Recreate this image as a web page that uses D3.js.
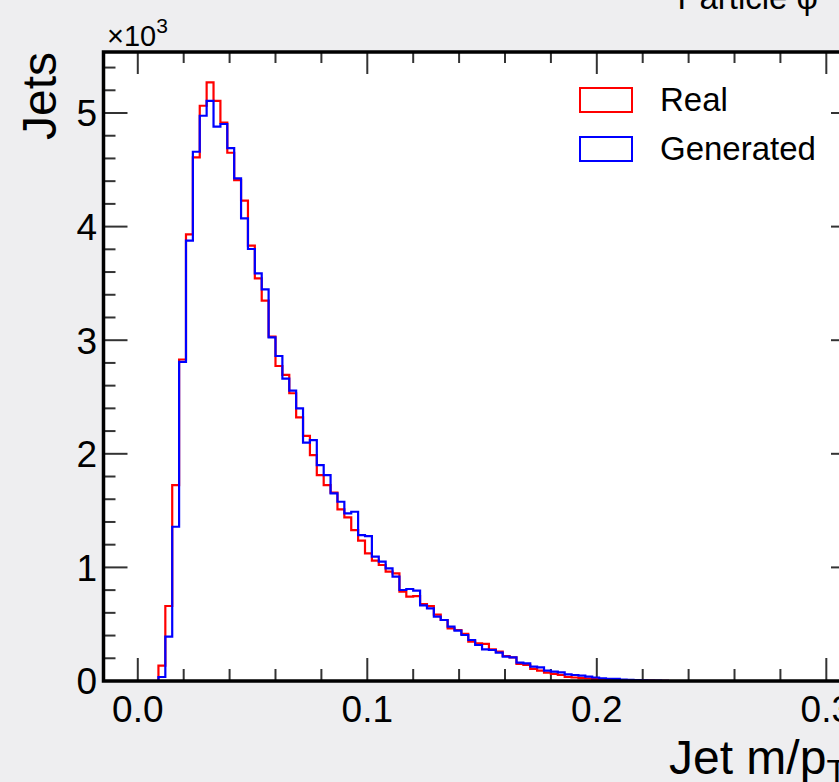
<!DOCTYPE html>
<html>
<head>
<meta charset="utf-8">
<script src="https://cdn.jsdelivr.net/npm/d3@7"></script>
<style>
  html, body { margin: 0; padding: 0; background: #eeeef0; }
  svg { display: block; }
  text { font-family: "Liberation Sans", Arial, Helvetica, sans-serif; fill: #000; }
</style>
</head>
<body>
<svg id="chart" width="839" height="782"></svg>
<script>
// histogram binning (bins of 0.003 starting at 0.006)
var binStart = 0.006, binWidth = 0.003;

// bin contents
var real = [0, 135, 660, 1725, 2830, 3932, 4610, 5064, 5270, 5106,
  4915, 4650, 4410, 4228, 3832, 3545, 3348, 3031, 2773, 2694,
  2533, 2321, 2157, 1989, 1813, 1725, 1658, 1511, 1441, 1329,
  1235, 1124, 1060, 1021, 962, 948, 786, 742, 748, 678,
  660, 584, 537, 464, 449, 414, 346, 332, 326, 279,
  258, 220, 208, 150, 141, 106, 91, 73, 62, 53,
  35, 31, 26, 22, 18, 15, 12, 9, 8, 6,
  5, 4, 3, 2, 1];
var generated = [0, 35, 390, 1358, 2810, 3876, 4659, 4976, 5106, 4880,
  4903, 4690, 4425, 4073, 3803, 3589, 3448, 3025, 2861, 2661,
  2556, 2400, 2098, 2121, 1901, 1813, 1652, 1578, 1476, 1490,
  1285, 1276, 1094, 1050, 992, 918, 801, 810, 795, 666,
  640, 566, 537, 478, 443, 405, 361, 317, 279, 273,
  249, 214, 208, 161, 155, 126, 120, 91, 82, 76,
  59, 53, 47, 38, 31, 24, 20, 18, 13, 10,
  8, 6, 4, 3, 2];

var seriesNames = ['Real', 'Generated'];
var seriesColors = ['#ff0000', '#0000ff'];
var xMajor = [0, 0.1, 0.2, 0.3];
var xMinor = [0.02, 0.04, 0.06, 0.08, 0.12, 0.14, 0.16, 0.18, 0.22, 0.24, 0.26, 0.28];
var yMajor = [0, 1000, 2000, 3000, 4000, 5000];

var svg = d3.select('#chart');

// frame (window.top is taken, so keep the edges in an object)
var frame = {left: 103.5, right: 855, top: 52, bottom: 681};
var x = d3.scaleLinear().domain([-0.01494, 0.3125]).range([frame.left, frame.right]);
var y = d3.scaleLinear().domain([0, 5537]).range([frame.bottom, frame.top]);

svg.append('rect').attr('x', frame.left).attr('y', frame.top)
  .attr('width', frame.right - frame.left).attr('height', frame.bottom - frame.top)
  .attr('fill', '#fff');

// minor y ticks every 200
var yMinor = d3.range(200, 5537, 200).filter(function(v){ return v % 1000 !== 0; });

var tickCol = '#333';
var g = svg.append('g');

function vtick(v, len, atTop){
  var yy = atTop ? frame.top : frame.bottom;
  g.append('line').attr('x1', x(v)).attr('x2', x(v))
    .attr('y1', yy).attr('y2', atTop ? yy + len : yy - len)
    .attr('stroke', tickCol).attr('stroke-width', 2);
}
function htick(v, len, atRight){
  var xx = atRight ? frame.right : frame.left;
  g.append('line').attr('y1', y(v)).attr('y2', y(v))
    .attr('x1', xx).attr('x2', atRight ? xx - len : xx + len)
    .attr('stroke', tickCol).attr('stroke-width', 2);
}
xMajor.forEach(function(v){ vtick(v, 23, false); vtick(v, 22, true); });
xMinor.forEach(function(v){ vtick(v, 12, false); vtick(v, 11, true); });
yMajor.forEach(function(v){ htick(v, 24, false); htick(v, 24, true); });
yMinor.forEach(function(v){ htick(v, 12, false); htick(v, 12, true); });

// histograms
function stepPoints(vals){
  var pts = [[binStart, 0]];
  vals.forEach(function(v, i){
    var lo = binStart + i * binWidth;
    pts.push([lo, v]);
    pts.push([lo + binWidth, v]);
  });
  pts.push([binStart + vals.length * binWidth, 0]);
  return pts;
}
var line = d3.line().x(function(d){ return x(d[0]); }).y(function(d){ return y(d[1]); });

[real, generated].forEach(function(vals, i){
  svg.append('path').attr('d', line(stepPoints(vals)))
    .attr('fill', 'none').attr('stroke', seriesColors[i])
    .attr('stroke-width', 2.2).attr('stroke-linejoin', 'miter');
});

// frame border
svg.append('rect').attr('x', frame.left).attr('y', frame.top)
  .attr('width', frame.right - frame.left).attr('height', frame.bottom - frame.top)
  .attr('fill', 'none').attr('stroke', '#000').attr('stroke-width', 3.5);

// tick labels
svg.append('g').selectAll('text').data(xMajor).enter().append('text')
  .attr('x', function(d){ return x(d); }).attr('y', 722)
  .attr('text-anchor', 'middle').attr('font-size', 37)
  .text(function(d){ return d3.format('.1f')(d); });

svg.append('g').selectAll('text').data(yMajor).enter().append('text')
  .attr('x', 97).attr('y', function(d){ return y(d); }).attr('dy', '0.36em')
  .attr('text-anchor', 'end').attr('font-size', 37)
  .text(function(d){ return d / 1000; });

// exponent
var ex = svg.append('text').attr('x', 107).attr('y', 46).attr('font-size', 29);
ex.append('tspan').text('×10');
ex.append('tspan').attr('dy', -13).attr('font-size', 21).text('3');

// axis titles
svg.append('text').attr('transform', 'translate(56,52) rotate(-90)')
  .attr('text-anchor', 'end').attr('font-size', 48).text('Jets');

var xt = svg.append('text').attr('x', 669).attr('y', 774).attr('font-size', 48);
xt.append('tspan').text('Jet m/p');
xt.append('tspan').attr('dy', 9).attr('font-size', 34).text('T');

// top-right label (cut off by the page edge)
svg.append('text').attr('x', 818).attr('y', 9)
  .attr('text-anchor', 'end').attr('font-size', 33).text('Particle φ');

// legend
var leg = svg.append('g');
seriesNames.forEach(function(name, i){
  var yy = 88 + i * 49;
  leg.append('rect').attr('x', 580).attr('y', yy).attr('width', 52).attr('height', 24)
    .attr('fill', '#fff').attr('stroke', seriesColors[i]).attr('stroke-width', 2);
  leg.append('text').attr('x', 660).attr('y', yy + 23).attr('font-size', 33).text(name);
});
</script>
</body>
</html>
